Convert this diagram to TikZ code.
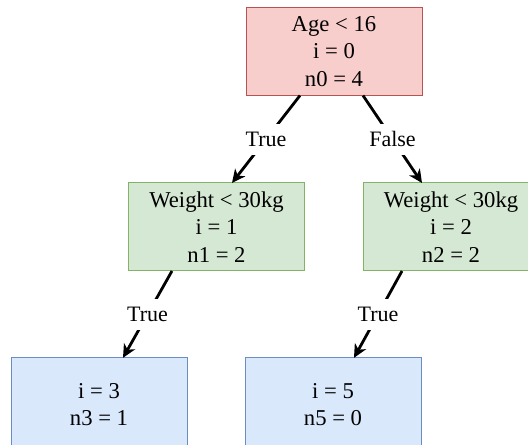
\documentclass[tikz,border=0pt]{standalone}
\usepackage{fontspec}
\setmainfont{Liberation Serif}
\usepackage{xcolor}
\usetikzlibrary{arrows.meta,positioning,calc}
\definecolor{rootfill}{HTML}{F8CECC}
\definecolor{rootdraw}{HTML}{B85450}
\definecolor{splitfill}{HTML}{D5E8D4}
\definecolor{splitdraw}{HTML}{82B366}
\definecolor{leaffill}{HTML}{DAE8FC}
\definecolor{leafdraw}{HTML}{6C8EBF}
\tikzset{
    every picture/.style={line join=miter},
    treebox/.style={line width=0.75pt,minimum width=132pt,minimum height=66pt,
      inner sep=2pt,outer sep=0pt,font=\fontsize{17}{20.5}\selectfont,align=center},
    rootbox/.style={treebox,draw=rootdraw,fill=rootfill},
    splitbox/.style={treebox,draw=splitdraw,fill=splitfill},
    leafbox/.style={treebox,draw=leafdraw,fill=leaffill},
    treearrow/.style={-{Stealth[length=10pt,width=9.5pt,inset=3pt]},draw=black,
      line width=2.1pt},
    branchlabel/.style={fill=white,inner xsep=1pt,inner ysep=1pt,minimum height=23pt,
      font=\fontsize{16.5}{18}\selectfont}
}
\begin{document}
\begin{tikzpicture}[x=0.75pt,y=-0.75pt]
  \useasboundingbox (0,0) rectangle (528,445);
  % decision nodes
  \node[rootbox] (root) at (334,51.5) {Age < 16\\ i = 0\\ n0 = 4};
  \node[splitbox] (wleft) at (216.5,227) {Weight < 30kg\\ i = 1\\ n1 = 2};
  \node[splitbox] (wright) at (451,227) {Weight < 30kg\\ i = 2\\ n2 = 2};
  % leaves
  \node[leafbox,minimum height=70pt] (leafa) at (99,404.5) {i = 3\\ n3 = 1};
  \node[leafbox,minimum height=70pt] (leafb) at (333,404.5) {i = 5\\ n5 = 0};
  % branches
  \draw[treearrow] ([xshift=-25.5pt]root.south) --
    node[branchlabel]{True} ([xshift=11.6pt]wleft.north);
  \draw[treearrow] ([xshift=21.75pt]root.south) --
    node[branchlabel]{False} ([xshift=-21.75pt]wright.north);
  \draw[treearrow] ([xshift=-33.4pt]wleft.south) --
    node[branchlabel]{True} ([xshift=18pt]leafa.north);
  \draw[treearrow] ([xshift=-36.75pt]wright.south) --
    node[branchlabel]{True} ([xshift=15.75pt]leafb.north);
\end{tikzpicture}
\end{document}
